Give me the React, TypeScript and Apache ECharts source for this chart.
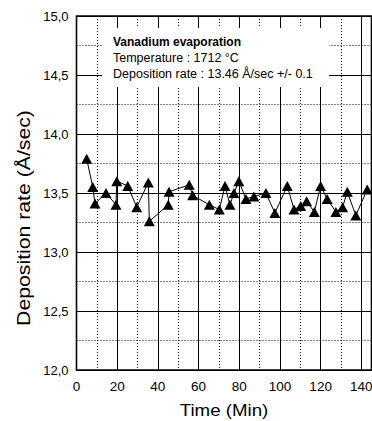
import React, { useEffect, useRef } from "react";
import * as echarts from "echarts";

// Measured deposition rate of vanadium during evaporation
const timeMin = [
  5.0, 8.0, 9.1, 14.5, 19.4, 19.8, 25.2, 29.6, 35.3, 35.8, 45.1, 45.5, 55.4,
  57.1, 65.3, 70.2, 73.0, 75.4, 77.4, 79.8, 83.3, 87.2, 93.1, 97.5, 103.6,
  106.9, 110.2, 113.1, 116.9, 120.0, 123.2, 127.5, 130.8, 133.1, 137.3, 142.9,
];
const rate = [
  13.79, 13.55, 13.41, 13.5, 13.4, 13.6, 13.56, 13.38, 13.59, 13.26, 13.4,
  13.51, 13.57, 13.48, 13.4, 13.36, 13.56, 13.4, 13.5, 13.6, 13.45, 13.47,
  13.5, 13.33, 13.56, 13.36, 13.39, 13.43, 13.34, 13.56, 13.45, 13.34, 13.38,
  13.51, 13.31, 13.53,
];

const noteTitle = "Vanadium evaporation";
const noteLines = ["Temperature : 1712 °C", "Deposition rate : 13.46 Å/sec +/- 0.1"];
const xTitle = "Time (Min)";
const yTitle = "Deposition rate (Å/sec)";

const FONT = "'Liberation Sans', Arial, Helvetica, sans-serif";

// The chart canvas is a little wider than the window so the last
// tick label runs past the right edge instead of being pushed inward.
const CANVAS_W = 392;
const CANVAS_H = 421;
const PLOT_RIGHT = 371.5;

export default function App() {
  const ref = useRef<HTMLDivElement>(null);

  useEffect(() => {
    if (!ref.current) return;
    const chart = echarts.init(ref.current, undefined, { renderer: "svg" });
    const points = timeMin.map((t, i) => [t, rate[i]]);

    const dotted = { color: "#000", width: 1, type: [1, 2] as number[] };
    const solid = { color: "#000", width: 1, type: "solid" as const };

    chart.setOption({
      animation: false,
      backgroundColor: "#fff",
      textStyle: { fontFamily: FONT },
      grid: {
        left: 76.5,
        right: CANVAS_W - PLOT_RIGHT,
        top: 16,
        bottom: 51,
        containLabel: false,
        outerBoundsMode: "none",
        show: true,
        borderColor: "#000",
        borderWidth: 1.6,
        backgroundColor: "transparent",
        z: 5,
      },
      xAxis: [
        {
          type: "value",
          min: 0,
          max: 145,
          interval: 20,
          axisLine: { show: false },
          axisTick: { show: false },
          axisLabel: {
            color: "#000",
            fontSize: 13.5,
            fontFamily: FONT,
            margin: 9,
            showMaxLabel: false,
            formatter: (v: number) => (v % 20 === 0 ? String(v) : ""),
          },
          splitLine: { show: true, lineStyle: solid },
          z: 1,
        },
        {
          type: "value",
          min: 0,
          max: 145,
          interval: 10,
          axisLine: { show: false },
          axisTick: { show: false },
          axisLabel: { show: false },
          splitLine: { show: true, lineStyle: dotted },
          z: 0,
        },
      ],
      yAxis: [
        {
          type: "value",
          min: 12,
          max: 15,
          interval: 0.5,
          axisLine: { show: false },
          axisTick: { show: false },
          axisLabel: {
            color: "#000",
            fontSize: 13,
            fontFamily: FONT,
            margin: 8,
            formatter: (v: number) => v.toFixed(1).replace(".", ","),
          },
          splitLine: { show: true, lineStyle: solid },
          z: 1,
        },
        {
          type: "value",
          min: 12,
          max: 15,
          interval: 0.25,
          axisLine: { show: false },
          axisTick: { show: false },
          axisLabel: { show: false },
          splitLine: { show: true, lineStyle: dotted },
          z: 0,
        },
      ],
      series: [
        {
          type: "line",
          data: points,
          xAxisIndex: 0,
          yAxisIndex: 0,
          symbol: "triangle",
          symbolSize: [11, 10],
          itemStyle: { color: "#000" },
          lineStyle: { color: "#000", width: 1 },
          z: 10,
        },
      ],
      graphic: [
        {
          type: "rect",
          z: 50,
          shape: { x: 102, y: 28, width: 227, height: 59 },
          style: { fill: "#fff" },
        },
        {
          type: "text",
          z: 51,
          x: 113,
          y: 42,
          style: {
            text: noteTitle,
            font: `bold 12px ${FONT}`,
            fill: "#000",
            verticalAlign: "middle",
          },
        },
        ...noteLines.map((line, i) => ({
          type: "text",
          z: 51,
          x: 113,
          y: 58 + i * 16,
          style: {
            text: line,
            font: `12.5px ${FONT}`,
            fill: "#000",
            verticalAlign: "middle",
          },
        })),
        {
          type: "text",
          z: 51,
          x: 224,
          y: 410,
          scaleX: 1.1,
          style: {
            text: xTitle,
            font: `17px ${FONT}`,
            fill: "#000",
            align: "center",
            verticalAlign: "middle",
          },
        },
        {
          type: "text",
          z: 51,
          x: 24,
          y: 218,
          rotation: Math.PI / 2,
          scaleX: 1.18,
          style: {
            text: yTitle,
            font: `18px ${FONT}`,
            fill: "#000",
            align: "center",
            verticalAlign: "middle",
          },
        },
      ],
    });

    return () => chart.dispose();
  }, []);

  return (
    <div
      ref={ref}
      style={{ position: "fixed", left: 0, top: 0, width: CANVAS_W, height: CANVAS_H }}
    />
  );
}
